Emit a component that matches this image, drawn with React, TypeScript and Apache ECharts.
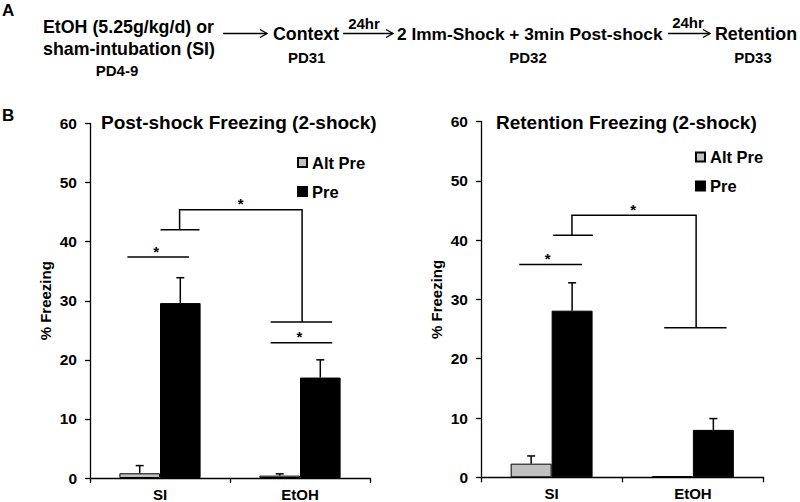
import React, { useEffect, useRef } from 'react';
import * as echarts from 'echarts';

const categories = ['SI', 'EtOH'];
const seriesNames = ['Alt Pre', 'Pre'];

// Post-shock freezing (left panel)
const postAltPre = [0.8, 0.4];
const postAltPreSem = [1.3, 0.3];
const postPre = [29.6, 17.0];
const postPreSem = [4.3, 3.0];

// Retention freezing (right panel)
const retAltPre = [2.3, 0.2];
const retAltPreSem = [1.3, 0];
const retPre = [28.1, 8.0];
const retPreSem = [4.7, 1.9];

// significance brackets, in [category position, % freezing]
const postBrackets = [
  [[0.267, 37.4], [0.707, 37.4]],
  [[0.504, 42.0], [0.782, 42.0]],
  [[0.64, 42.0], [0.64, 45.4], [1.515, 45.4], [1.515, 26.4]],
  [[1.29, 26.4], [1.73, 26.4]],
  [[1.29, 22.9], [1.73, 22.9]],
];
const postStars = [[0.473, 37.4], [1.076, 45.4], [1.496, 22.9]];

const retBrackets = [
  [[0.271, 35.9], [0.715, 35.9]],
  [[0.511, 40.8], [0.792, 40.8]],
  [[0.644, 40.8], [0.644, 44.2], [1.523, 44.2], [1.523, 25.2]],
  [[1.297, 25.2], [1.738, 25.2]],
];
const retStars = [[0.472, 35.9], [1.078, 44.2]];

const FONT = 'Liberation Sans, Arial, sans-serif';
const GREY = '#c0c0c0';

function errorSeries(xi: number, yi: number, means: number[], sems: number[], off: number) {
  return {
    type: 'custom',
    xAxisIndex: xi,
    yAxisIndex: yi,
    z: 5,
    itemStyle: { color: '#000' },
    data: means.map((m, i) => [i, m, m + sems[i]]),
    renderItem: (params: any, api: any) => {
      const c = api.coord([api.value(0), api.value(1)]);
      const t = api.coord([api.value(0), api.value(2)]);
      const band = api.size([1, 0])[0];
      const x = c[0] + off * band;
      if (Math.abs(c[1] - t[1]) < 1) return { type: 'group', children: [] };
      const st = { stroke: '#000', lineWidth: 1.5 };
      return {
        type: 'group',
        children: [
          { type: 'line', shape: { x1: x, y1: c[1], x2: x, y2: t[1] }, style: st },
          { type: 'line', shape: { x1: x - 4, y1: t[1], x2: x + 4, y2: t[1] }, style: st },
        ],
      };
    },
  };
}

function bracketSeries(xi: number, yi: number, brackets: number[][][]) {
  return {
    type: 'custom',
    xAxisIndex: xi,
    yAxisIndex: yi,
    z: 6,
    clip: false,
    itemStyle: { color: '#000' },
    data: brackets.map((b) => b[0]),
    renderItem: (params: any, api: any) => {
      const pts = brackets[params.dataIndex].map((p) => api.coord(p));
      return {
        type: 'polyline',
        shape: { points: pts },
        style: { stroke: '#000', lineWidth: 1.5, fill: null },
      };
    },
  };
}

function starSeries(xi: number, yi: number, stars: number[][]) {
  return {
    type: 'custom',
    xAxisIndex: xi,
    yAxisIndex: yi,
    z: 6,
    clip: false,
    itemStyle: { color: '#000' },
    data: stars,
    renderItem: (params: any, api: any) => {
      const p = api.coord([api.value(0), api.value(1)]);
      return {
        type: 'text',
        x: p[0],
        y: p[1] - 6,
        style: {
          text: '*',
          align: 'center',
          verticalAlign: 'middle',
          font: `bold 15px ${FONT}`,
          fill: '#000',
        },
      };
    },
  };
}

function arrow(x1: number, x2: number, y: number) {
  const st = { stroke: '#000', lineWidth: 1.3, fill: null };
  return [
    { type: 'line', shape: { x1, y1: y, x2, y2: y }, style: st },
    { type: 'polyline', shape: { points: [[x2 - 7, y - 4], [x2, y], [x2 - 7, y + 4]] }, style: st },
  ];
}

function txt(text: string, x: number, y: number, size: number, align = 'left') {
  return {
    type: 'text',
    x,
    y,
    style: { text, align, verticalAlign: 'middle', font: `bold ${size}px ${FONT}`, fill: '#000' },
  };
}

export default function App() {
  const ref = useRef<HTMLDivElement>(null);
  useEffect(() => {
    if (!ref.current) return;
    const chart = echarts.init(ref.current, null, { renderer: 'svg' });
    const axisLine = { show: true, lineStyle: { color: '#000', width: 1.3 } };
    const axisTick = { show: true, length: 5, lineStyle: { color: '#000', width: 1.3 } };
    const labelStyle = { color: '#000', fontWeight: 'bold', fontSize: 15, fontFamily: FONT };
    const catAxis = (gi: number) => ({
      type: 'category',
      gridIndex: gi,
      data: categories,
      axisLine,
      axisTick: { ...axisTick, alignWithLabel: false },
      axisLabel: { ...labelStyle, margin: 9 },
      splitLine: { show: false },
    });
    const valAxisX = (gi: number) => ({ type: 'value', gridIndex: gi, min: 0, max: 2, show: false });
    const yAxis = (gi: number) => ({
      type: 'value',
      gridIndex: gi,
      min: 0,
      max: 60,
      interval: 10,
      name: '% Freezing',
      nameLocation: 'middle',
      nameGap: 37,
      nameTextStyle: { ...labelStyle },
      axisLine,
      axisTick,
      axisLabel: { ...labelStyle, fontSize: 15.5, margin: 13 },
      splitLine: { show: false },
    });
    const bar = (name: string, xi: number, yi: number, data: number[], grey: boolean) => ({
      type: 'bar',
      name,
      xAxisIndex: xi,
      yAxisIndex: yi,
      data,
      barGap: '0%',
      barCategoryGap: '42%',
      itemStyle: { color: grey ? GREY : '#000', borderColor: '#000', borderWidth: 1 },
    });
    const legend = (left: number, top: number) => ({
      data: seriesNames,
      orient: 'vertical',
      left,
      top,
      itemWidth: 9,
      itemHeight: 9,
      itemGap: 12,
      icon: 'rect',
      selectedMode: false,
      textStyle: { ...labelStyle, fontSize: 16.5 },
      padding: 0,
    });
    const titleStyle = { color: '#000', fontWeight: 'bold', fontSize: 19, fontFamily: FONT };

    chart.setOption({
      animation: false,
      backgroundColor: '#fff',
      textStyle: { fontFamily: FONT },
      title: [
        { text: 'Post-shock Freezing (2-shock)', left: 101, top: 112.5, padding: 0, textStyle: titleStyle },
        { text: 'Retention Freezing (2-shock)', left: 496, top: 112.5, padding: 0, textStyle: titleStyle },
      ],
      legend: [legend(297, 154), legend(695, 148.5)],
      grid: [
        { left: 90, right: 430, top: 123.5, bottom: 23, containLabel: false },
        { left: 481, right: 36.5, top: 121.5, bottom: 24.7, containLabel: false },
      ],
      xAxis: [catAxis(0), valAxisX(0), catAxis(1), valAxisX(1)],
      yAxis: [yAxis(0), yAxis(1)],
      series: [
        bar('Alt Pre', 0, 0, postAltPre, true),
        bar('Pre', 0, 0, postPre, false),
        bar('Alt Pre', 2, 1, retAltPre, true),
        bar('Pre', 2, 1, retPre, false),
        errorSeries(0, 0, postAltPre, postAltPreSem, -0.145),
        errorSeries(0, 0, postPre, postPreSem, 0.145),
        errorSeries(2, 1, retAltPre, retAltPreSem, -0.145),
        errorSeries(2, 1, retPre, retPreSem, 0.145),
        bracketSeries(1, 0, postBrackets),
        starSeries(1, 0, postStars),
        bracketSeries(3, 1, retBrackets),
        starSeries(3, 1, retStars),
      ],
      graphic: [
        txt('A', 2, 10, 17),
        txt('B', 2, 115, 17),
        txt('EtOH (5.25g/kg/d) or', 43, 27, 17.8),
        txt('sham-intubation (SI)', 43, 48.5, 17.8),
        txt('PD4-9', 117, 70, 15, 'center'),
        ...arrow(223, 267, 33.5),
        txt('Context', 273, 33.5, 17.8),
        txt('PD31', 306.7, 57.5, 15, 'center'),
        ...arrow(343, 393, 33.5),
        txt('24hr', 364, 23, 15, 'center'),
        txt('2 Imm-Shock + 3min Post-shock', 397, 33.5, 17.3),
        txt('PD32', 528, 57.5, 15, 'center'),
        ...arrow(668, 710, 33.5),
        txt('24hr', 688, 22, 15, 'center'),
        txt('Retention', 715, 33.5, 17.8),
        txt('PD33', 753, 57.5, 15, 'center'),
      ],
    });
    return () => chart.dispose();
  }, []);
  return (
    <div
      ref={ref}
      style={{ position: 'absolute', left: 0, top: 0, width: 800, height: 502, background: '#fff' }}
    />
  );
}
